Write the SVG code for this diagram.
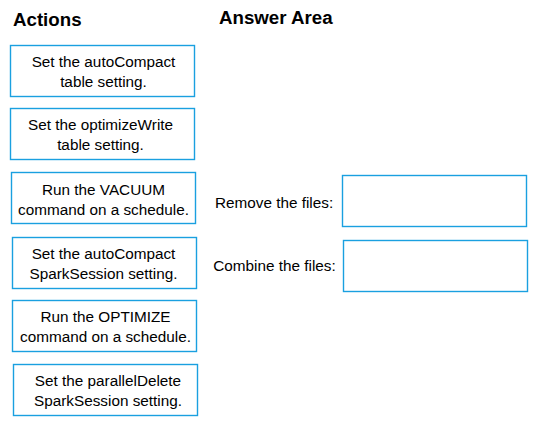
<svg xmlns="http://www.w3.org/2000/svg" width="535" height="424" viewBox="0 0 535 424">
<style>
.box{fill:#ffffff;stroke:#1aa0e0;stroke-width:1.4}
.t{font-family:"Liberation Sans",Arial,sans-serif;font-size:15.3px;fill:#000;text-anchor:middle}
.lbl{font-family:"Liberation Sans",Arial,sans-serif;font-size:15.3px;fill:#000}
.h{font-family:"Liberation Sans",Arial,sans-serif;font-size:18.7px;font-weight:bold;fill:#000}
</style>
<rect width="535" height="424" fill="#ffffff"/>
<text class="h" x="13" y="25.7">Actions</text>
<text class="h" x="219" y="24.3">Answer Area</text>
<g id="action1"><rect class="box" x="10.5" y="45.5" width="184" height="51"/><text class="t" x="103.5" y="67.3">Set the autoCompact</text><text class="t" x="103.5" y="87.3">table setting.</text></g>
<g id="action2"><rect class="box" x="10.5" y="108.5" width="184" height="51"/><text class="t" x="100.5" y="130.3">Set the optimizeWrite</text><text class="t" x="100.5" y="150.3">table setting.</text></g>
<g id="action3"><rect class="box" x="11.5" y="172.5" width="184" height="51"/><text class="t" x="103.5" y="194.8">Run the VACUUM</text><text class="t" x="103.5" y="214.8">command on a schedule.</text></g>
<g id="action4"><rect class="box" x="12.5" y="237.5" width="184" height="51"/><text class="t" x="103.5" y="259.3">Set the autoCompact</text><text class="t" x="103.5" y="279.3">SparkSession setting.</text></g>
<g id="action5"><rect class="box" x="12.5" y="300.5" width="184" height="51"/><text class="t" x="105.5" y="322.3">Run the OPTIMIZE</text><text class="t" x="105.5" y="342.3">command on a schedule.</text></g>
<g id="action6"><rect class="box" x="13.5" y="364.5" width="184" height="51"/><text class="t" x="108" y="386.3">Set the parallelDelete</text><text class="t" x="108" y="406.3">SparkSession setting.</text></g>
<g id="remove"><text class="lbl" x="215" y="208.3">Remove the files:</text><rect class="box" x="342.5" y="175.5" width="184" height="51"/></g>
<g id="combine"><text class="lbl" x="213.3" y="270.7">Combine the files:</text><rect class="box" x="343.5" y="240.5" width="184" height="51"/></g>
<g id="connectors"></g>
</svg>
